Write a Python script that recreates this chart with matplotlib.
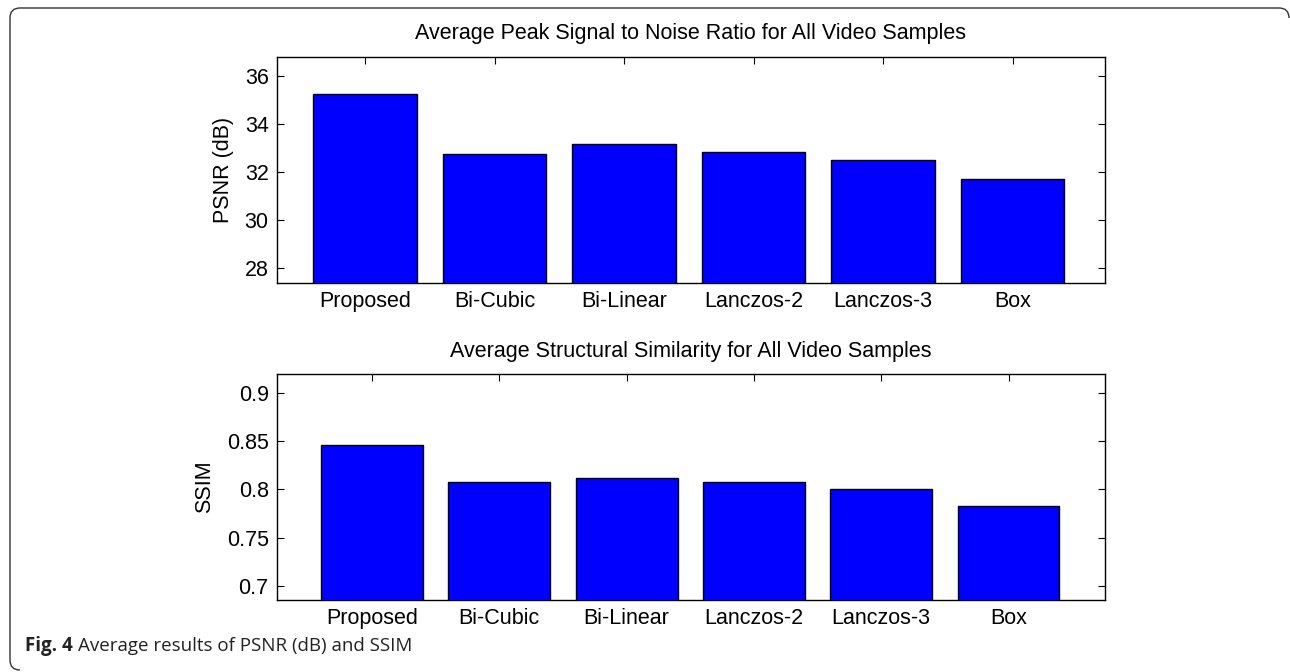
import matplotlib
matplotlib.use("Agg")
import matplotlib.pyplot as plt
import numpy as np
from matplotlib.path import Path
from matplotlib.patches import PathPatch

methods = ["Proposed", "Bi-Cubic", "Bi-Linear", "Lanczos-2", "Lanczos-3", "Box"]
psnr = [35.25, 32.76, 33.16, 32.83, 32.50, 31.71]
ssim = [0.8463, 0.8076, 0.8117, 0.8076, 0.8003, 0.7827]
psnr_ticks = [28, 30, 32, 34, 36]
ssim_ticks = [0.7, 0.75, 0.8, 0.85, 0.9]
ssim_ticklabels = ["0.7", "0.75", "0.8", "0.85", "0.9"]

W, H = 1290, 672
fig = plt.figure(figsize=(W / 100, H / 100), dpi=100)
plt.rcParams["font.family"] = ["Liberation Sans", "DejaVu Sans"]
FS = 15.5

def style(ax):
    for s in ax.spines.values():
        s.set_color("black")
        s.set_linewidth(1.0)
    ax.tick_params(direction="in", length=5, width=0.8, top=True, right=True,
                   labelsize=FS, pad=6, colors="black")

x = np.arange(len(methods))

ax1 = fig.add_axes([277 / W, 1 - 282.5 / H, 827.5 / W, 225.5 / H])
ax1.bar(x, psnr, width=0.8, color="#0000ff", edgecolor="black", linewidth=1.0, zorder=3)
ax1.set_xlim(-0.68, 5.71)
ax1.set_ylim(27.375, 36.79)
ax1.set_xticks(x)
ax1.set_xticklabels(methods)
ax1.set_yticks(psnr_ticks)
ax1.set_ylabel("PSNR (dB)", fontsize=FS, labelpad=8)
ax1.set_title("Average Peak Signal to Noise Ratio for All Video Samples", fontsize=FS, pad=13)
style(ax1)

ax2 = fig.add_axes([277 / W, 1 - 600 / H, 828 / W, 226 / H])
ax2.bar(x, ssim, width=0.8, color="#0000ff", edgecolor="black", linewidth=1.0, zorder=3)
ax2.set_xlim(-0.746, 5.758)
ax2.set_ylim(0.6855, 0.9194)
ax2.set_xticks(x)
ax2.set_xticklabels(methods)
ax2.set_yticks(ssim_ticks)
ax2.set_yticklabels(ssim_ticklabels)
ax2.set_ylabel("SSIM", fontsize=FS, labelpad=8)
ax2.set_title("Average Structural Similarity for All Video Samples", fontsize=FS, pad=12)
style(ax2)

# Frame border (rounded, open at bottom-right)
r = 10
verts = [(1289, H - 8 - r), (1289, H - 8), (1289 - r, H - 8),
         (10 + r, H - 8), (10, H - 8), (10, H - 8 - r),
         (10, 2 + r), (10, 2), (10 + r, 2)]
codes = [Path.MOVETO, Path.CURVE3, Path.CURVE3,
         Path.LINETO, Path.CURVE3, Path.CURVE3,
         Path.LINETO, Path.CURVE3, Path.CURVE3]
fig.add_artist(PathPatch(Path(verts, codes), transform=None, fill=False,
                         edgecolor="#333333", linewidth=1.0))

# Caption
cap_y = 1 - 646 / H
t1 = fig.text(25 / W, cap_y, "Fig. 4", fontsize=13.5, fontweight="bold",
              family=["Open Sans", "DejaVu Sans"], va="center", ha="left", color="#222222")
fig.canvas.draw()
bb = t1.get_window_extent()
fig.text((bb.x1 + 5) / W, cap_y, "Average results of PSNR (dB) and SSIM", fontsize=13.5,
         family=["Open Sans", "DejaVu Sans"], va="center", ha="left", color="#222222")

fig.savefig("out.png", dpi=100)
